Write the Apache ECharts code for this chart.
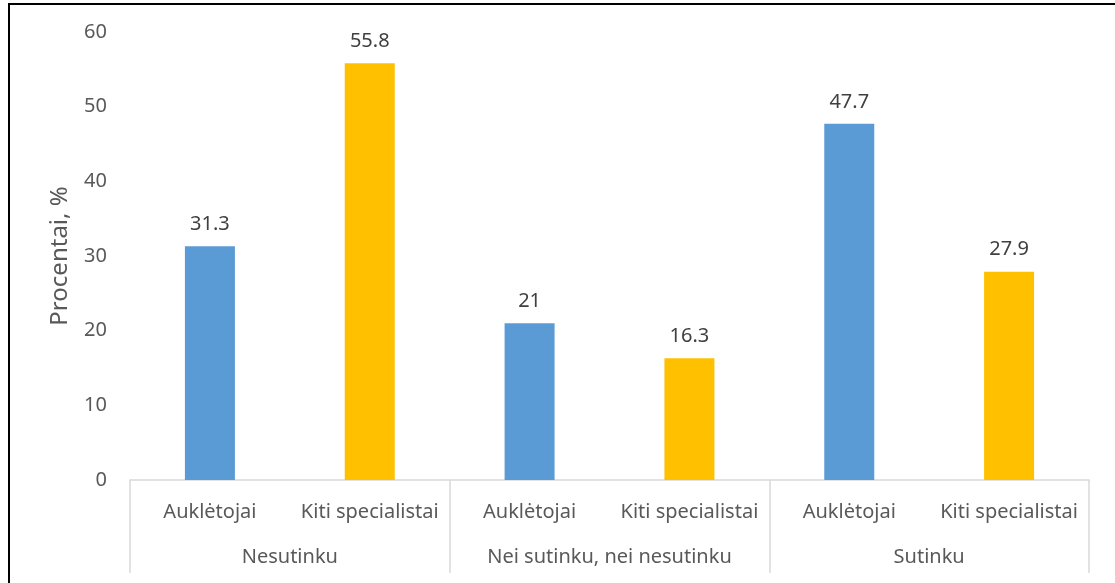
<!DOCTYPE html>
<html><head><meta charset="utf-8">
<script src="https://cdn.jsdelivr.net/npm/echarts@6/dist/echarts.min.js"></script>
<style>html,body{margin:0;padding:0;background:#fff}#c{width:1115px;height:583px}</style>
</head><body><div id="c"></div>
<script>
const categories = ['Auklėtojai','Kiti specialistai','Auklėtojai','Kiti specialistai','Auklėtojai','Kiti specialistai'];
const groups = ['Nesutinku','Nei sutinku, nei nesutinku','Sutinku'];
const values = [31.3, 55.8, 21, 16.3, 47.7, 27.9];
const barColors = ['#5B9BD5','#FFC000'];
const yTicks = {min:0, max:60, interval:10};
const yName = 'Procentai, %';
const FONT = 'Noto Sans';

const chart = echarts.init(document.getElementById('c'), null, {renderer:'canvas'});
chart.setOption({
  animation:false,
  textStyle:{fontFamily:FONT},
  grid:{left:130, right:26, top:32, bottom:103, containLabel:false},
  graphic:[{type:'rect', shape:{x:9,y:4,width:1200,height:700}, style:{fill:null, stroke:'#000', lineWidth:2}, silent:true}],
  xAxis:[
    {type:'category', data:categories, position:'bottom',
     axisLine:{show:true, lineStyle:{color:'#d9d9d9', width:1.5}},
     axisTick:{show:false},
     axisLabel:{color:'#595959', fontSize:20, margin:22, fontFamily:FONT, interval:0}},
    {type:'category', data:groups, position:'bottom',
     axisLine:{show:false},
     axisTick:{show:true, inside:false, length:93, lineStyle:{color:'#d9d9d9', width:1.5}},
     axisLabel:{color:'#595959', fontSize:20, margin:67, fontFamily:FONT, interval:0}}
  ],
  yAxis:{type:'value', min:yTicks.min, max:yTicks.max, interval:yTicks.interval,
    axisLine:{show:false}, axisTick:{show:false}, splitLine:{show:false},
    axisLabel:{color:'#595959', fontSize:20, margin:23, fontFamily:FONT},
    name:yName, nameLocation:'middle', nameGap:58, nameRotate:90,
    nameTextStyle:{color:'#595959', fontSize:24, fontFamily:FONT}},
  series:[{type:'bar', xAxisIndex:0, barWidth:50,
    data: values.map((v,i)=>({value:v, itemStyle:{color:barColors[i%2]}})),
    label:{show:true, position:'top', distance:12, color:'#404040', fontSize:20, fontFamily:FONT}
  }]
});
</script></body></html>
